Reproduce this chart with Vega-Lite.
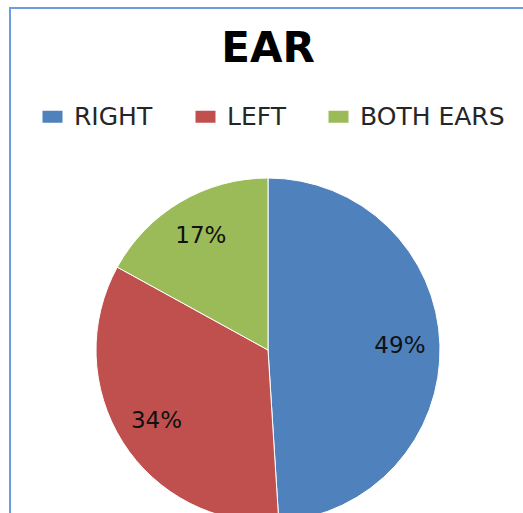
{
  "$schema": "https://vega.github.io/schema/vega-lite/v6.json",
  "autosize": "none",
  "width": 516,
  "height": 684,
  "padding": {"left": 10, "top": 8, "right": -3, "bottom": -179},
  "background": "white",
  "title": {"text": "EAR", "font": "DejaVu Sans", "fontSize": 42, "fontWeight": "bold", "color": "black", "anchor": "middle", "frame": "group", "baseline": "alphabetic", "offset": -54, "dy": 42},
  "view": {"stroke": "#6b9de0", "strokeWidth": 2},
  "data": {"values": [
    {"ear": "RIGHT", "value": 49, "label": "49%", "order": 1},
    {"ear": "LEFT", "value": 34, "label": "34%", "order": 2},
    {"ear": "BOTH EARS", "value": 17, "label": "17%", "order": 3}
  ]},
  "encoding": {
    "theta": {"field": "value", "type": "quantitative", "stack": true},
    "order": {"field": "order", "type": "quantitative"},
    "color": {
      "field": "ear", "type": "nominal",
      "scale": {"domain": ["RIGHT", "LEFT", "BOTH EARS"], "range": ["#4F81BD", "#C0504D", "#9BBB59"]},
      "legend": {
        "title": null, "orient": "none", "legendX": 30, "legendY": 96, "direction": "horizontal",
        "symbolType": "M-1,-0.6H1V0.6H-1Z", "symbolSize": 400, "symbolStrokeWidth": 0,
        "labelFont": "DejaVu Sans", "labelFontSize": 25, "labelColor": "#262626",
        "labelOffset": 9, "columnPadding": 40, "padding": 0
      }
    }
  },
  "layer": [
    {"mark": {"type": "arc", "radius": 172, "stroke": "white", "strokeWidth": 1}},
    {"mark": {"type": "text", "radius": 132, "font": "DejaVu Sans", "fontSize": 23},
     "encoding": {"text": {"field": "label", "type": "nominal"}, "color": {"value": "#111111"}}}
  ],
  "config": {
    "view": {"stroke": "#6b9de0", "strokeWidth": 2}
  }
}
